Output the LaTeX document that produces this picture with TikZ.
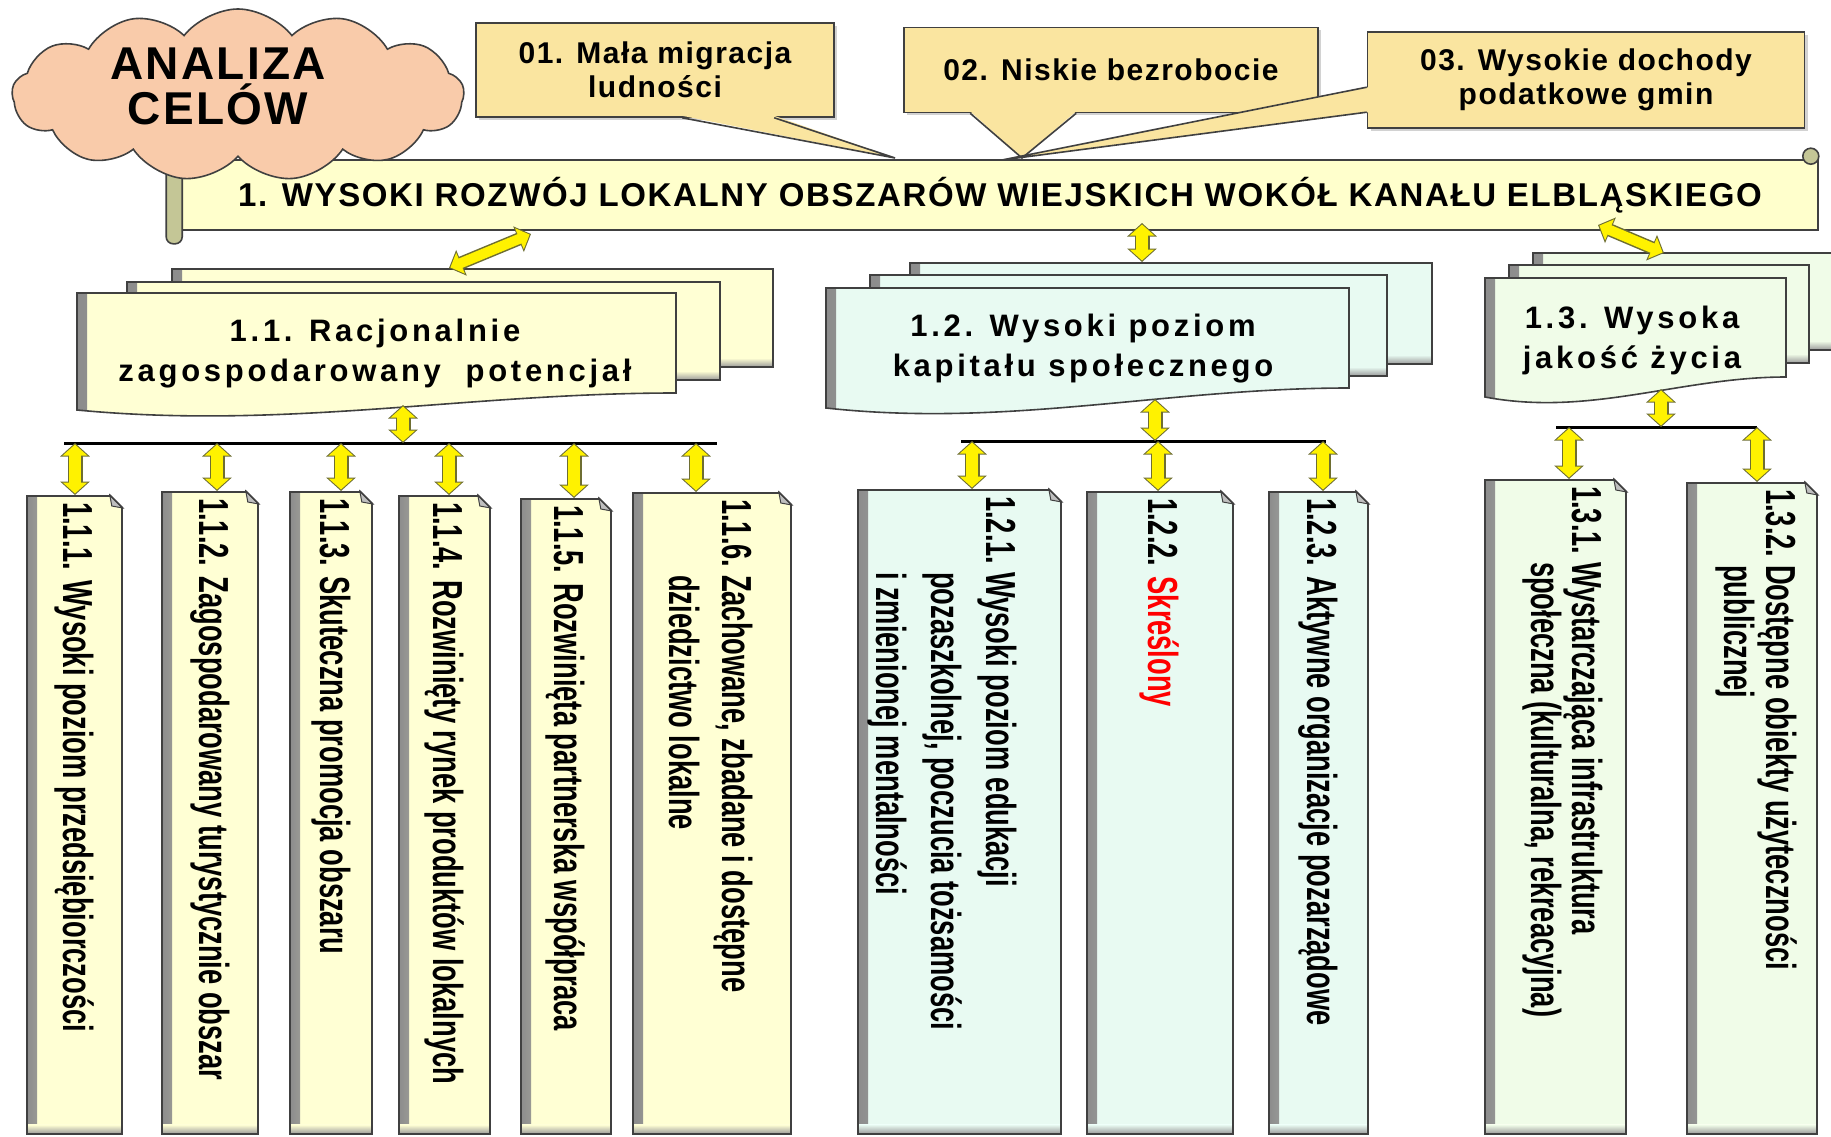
\documentclass[tikz,border=0pt]{standalone}
\usepackage{fontspec}
\setmainfont{Liberation Sans}
\newfontfamily\spacedfont[LetterSpace=12]{Liberation Sans}
\newfontfamily\tightfont[LetterSpace=5]{Liberation Sans}
\newfontfamily\narrowfont[FakeStretch=0.65]{Liberation Sans}
\usetikzlibrary{shapes.symbols,arrows.meta,shadows}

\definecolor{cloudfill}{RGB}{249,203,170}
\definecolor{notefill}{RGB}{250,229,160}
\definecolor{bannerfill}{RGB}{255,255,204}
\definecolor{rollfill}{RGB}{196,198,150}
\definecolor{paleyel}{RGB}{255,255,212}
\definecolor{palemint}{RGB}{232,250,242}
\definecolor{palegreen}{RGB}{240,252,232}
\definecolor{arrowline}{RGB}{110,110,50}
\definecolor{edgegray}{RGB}{64,64,64}
\definecolor{strike}{RGB}{255,0,0}

\begin{document}
\begin{tikzpicture}[x=1pt, y=-1pt,
  boxline/.style={draw=edgegray, line width=1.6pt},
  inshade/.style={path picture={
    \shade[left color=black!45, right color=#1] (path picture bounding box.south west) rectangle ([xshift=10pt]path picture bounding box.north west);
    \shade[bottom color=black!40, top color=#1] (path picture bounding box.south west) rectangle ([yshift=9pt]path picture bounding box.south east);}},
  sheet/.style={boxline, fill=#1, inshade=#1},
  leafbox/.style={boxline, fill=#1, inshade=#1, anchor=north, inner sep=0pt},
  headtext/.style={font=\spacedfont\bfseries\fontsize{31}{40}\selectfont, align=center, inner sep=0pt},
  notebox/.style={boxline, fill=notefill, align=center, font=\tightfont\bfseries\fontsize{30}{34}\selectfont,
    drop shadow={shadow xshift=3pt, shadow yshift=-3pt, opacity=.35}},
  vtext/.style={font=\narrowfont\bfseries\fontsize{42}{48}\selectfont, rotate=-90, anchor=west, inner sep=0pt, align=left},
  biarrow/.style={draw=yellow, line width=12pt,
    {Triangle[length=11pt,width=24pt]}-{Triangle[length=11pt,width=24pt]}, shorten <=1.5pt, shorten >=1.5pt,
    preaction={draw=arrowline, line width=15pt,
      {Triangle[length=13.5pt,width=29pt]}-{Triangle[length=13.5pt,width=29pt]}, shorten <=0pt, shorten >=0pt}},
  slimarrow/.style={draw=yellow, line width=10pt,
    {Triangle[length=11pt,width=22pt]}-{Triangle[length=11pt,width=22pt]}, shorten <=1.5pt, shorten >=1.5pt,
    preaction={draw=arrowline, line width=13pt,
      {Triangle[length=13.5pt,width=27pt]}-{Triangle[length=13.5pt,width=27pt]}, shorten <=0pt, shorten >=0pt}},
  busline/.style={line width=3pt, black}
]
\fill[white] (0,0) rectangle (1831,1137);
\clip (0,0) rectangle (1831,1137);

% stacked sheets of the three sub-goals
\foreach \xa/\ya/\xb/\yb/\col in {172/269/773/367/paleyel, 127/282/720/380/paleyel,
    910/263/1432/364/palemint, 870/275/1387/376/palemint,
    1533/253/1850/350/palegreen, 1509/265/1809/363/palegreen}
  \draw[sheet=\col] (\xa,\ya) rectangle (\xb,\yb);
\foreach \xa/\ya/\xb/\yl/\yr/\col in {77/293/676/410/393/paleyel, 826/288/1349/408/388/palemint, 1485/278/1786/397/377/palegreen}
  \draw[sheet=\col] (\xa,\ya) -- (\xb,\ya) -- (\xb,\yr)
    .. controls ({\xa+0.65*(\xb-\xa)},\yr) and ({\xa+0.35*(\xb-\xa)},{\yl+20}) .. (\xa,\yl) -- cycle;

\node (g11) [headtext] at (375,354) {1.1. Racjonalnie\\zagospodarowany\ \ potencjał};
\node (g12) [headtext] at (1083,349) {1.2. Wysoki poziom\\kapitału społecznego};
\node (g13) [headtext] at (1632,340) {1.3. Wysoka\\jakość życia};

\coordinate (p11) at (403,405);
\coordinate (p12) at (1155,399);
\coordinate (p13) at (1661,389);
\coordinate (bus11) at (403,443);
\coordinate (bus12) at (1155,441);
\coordinate (bus13) at (1661,427);
\coordinate (s11) at (449,268);
\coordinate (s12) at (1142,262);
\coordinate (s13) at (1664,253);

% detailed goals
\foreach \n/\x/\y/\w/\col in {c111/74.5/495/95/paleyel, c112/210/491/96/paleyel, c113/331/491/82/paleyel,
    c114/444.5/495/91/paleyel, c115/566/498/90/paleyel, c116/712/492/158/paleyel,
    c121/959.5/489/203/palemint, c122/1160/491/146/palemint, c123/1318.5/491/99/palemint,
    c131/1555.5/479/141/palegreen, c132/1752/482/130/palegreen}
  \node (\n) [leafbox=\col, minimum width=\w, minimum height={1133-\y}] at (\x,\y) {};

\foreach \n in {c111,c112,c113,c114,c115,c116,c121,c122,c123,c131,c132} {
  \fill[white] ([xshift=-14pt,yshift=1.5pt]\n.north east) -- ([xshift=1.5pt,yshift=1.5pt]\n.north east)
    -- ([xshift=1.5pt,yshift=-14pt]\n.north east) -- cycle;
  \filldraw[boxline, line width=1pt, fill=black!25] ([xshift=-13pt]\n.north east) -- ([yshift=-13pt]\n.north east)
    -- ([xshift=-11pt,yshift=-11pt]\n.north east) -- cycle;
  \draw[boxline] ([xshift=-13pt]\n.north east) -- ([yshift=-13pt]\n.north east);
}

\node (t111) [vtext] at ([yshift=-7pt]c111.north) {1.1.1. Wysoki poziom przedsiębiorczości};
\node (t112) [vtext] at ([yshift=-7pt]c112.north) {1.1.2. Zagospodarowany turystycznie obszar};
\node (t113) [vtext] at ([yshift=-7pt]c113.north) {1.1.3. Skuteczna promocja obszaru};
\node (t114) [vtext] at ([yshift=-7pt]c114.north) {1.1.4. Rozwinięty rynek produktów lokalnych};
\node (t115) [vtext] at ([yshift=-7pt]c115.north) {1.1.5. Rozwinięta partnerska współpraca};
\node (t116) [vtext] at ([xshift=-6pt,yshift=-7pt]c116.north) {\begin{tabular}{@{}l@{\ }l@{}}1.1.6. & Zachowane, zbadane i dostępne\\[5pt]
  & dziedzictwo lokalne\end{tabular}};
\node (t121) [vtext] at ([xshift=-18pt,yshift=-7pt]c121.north) {\begin{tabular}{@{}l@{\ }l@{}}1.2.1. & Wysoki poziom edukacji\\[7pt]
  & pozaszkolnej, poczucia tożsamości\\[7pt] & i zmienionej mentalności\end{tabular}};
\node (t122) [vtext] at ([yshift=-7pt]c122.north) {1.2.2. \textcolor{strike}{Skreślony}};
\node (t123) [vtext] at ([yshift=-7pt]c123.north) {1.2.3. Aktywne organizacje pozarządowe};
\node (t131) [vtext] at ([xshift=6pt,yshift=-7pt]c131.north) {\begin{tabular}{@{}l@{\ }l@{}}1.3.1. & Wystarczająca infrastruktura\\[-7pt]
  & społeczna (kulturalna, rekreacyjna)\end{tabular}};
\node (t132) [vtext] at ([xshift=3pt,yshift=-7pt]c132.north) {\begin{tabular}{@{}l@{\ }l@{}}1.3.2. & Dostępne obiekty użyteczności\\[-6pt]
  & publicznej\end{tabular}};

% links below the sub-goals
\draw[busline] (64,443) -- (717,443);
\draw[busline] (961,441) -- (1326,441);
\draw[busline] (1556,427) -- (1757,427);
\draw[biarrow] (p11) -- (bus11);
\draw[biarrow] (p12) -- (bus12);
\draw[biarrow] (p13) -- (bus13);
\foreach \n/\x in {c111/75, c112/217, c113/341, c114/449, c115/574, c116/696}
  \draw[biarrow] (\x,0 |- bus11) -- (\x,0 |- \n.north);
\foreach \n/\x in {c121/972, c122/1158, c123/1323}
  \draw[biarrow] (\x,0 |- bus12) -- (\x,0 |- \n.north);
\foreach \n/\x in {c131/1569, c132/1757}
  \draw[biarrow] (\x,0 |- bus13) -- (\x,0 |- \n.north);

% main goal scroll
\node (goal) [boxline, fill=bannerfill, minimum width=1636, minimum height=70,
  font=\tightfont\bfseries\fontsize{33}{36}\selectfont] at (1000,195)
  {1. WYSOKI ROZWÓJ LOKALNY OBSZARÓW WIEJSKICH WOKÓŁ KANAŁU ELBLĄSKIEGO};
\draw[boxline, fill=rollfill, rounded corners=7pt] ([xshift=-15pt,yshift=-8pt]goal.north west)
  rectangle ([xshift=1pt,yshift=-13pt]goal.south west);
\filldraw[boxline, fill=rollfill] ([xshift=-8pt,yshift=3pt]goal.north east) circle (8pt);
\coordinate (a11) at (531,234);
\coordinate (a12) at (1142,223);
\coordinate (a13) at (1598,225);

% effects
\node (m01) [notebox, minimum width=358, minimum height=94] at (655,70) {01. Mała migracja\\ludności};
\node (m02) [notebox, minimum width=414, minimum height=85] at (1111,70) {02. Niskie bezrobocie};
\node (m03) [notebox, minimum width=437, minimum height=96] at (1586,80) {03. Wysokie dochody\\podatkowe gmin};
\coordinate (t01) at (895,158);
\coordinate (t02) at (1022,158);
\coordinate (t03) at (1002,160);
\fill[notefill] ([xshift=207pt,yshift=2pt]m01.south west) -- (t01) -- ([xshift=299pt,yshift=2pt]m01.south west) -- cycle;
\draw[boxline] ([xshift=207pt]m01.south west) -- (t01) -- ([xshift=299pt]m01.south west);
\fill[notefill] ([xshift=67pt,yshift=2pt]m02.south west) -- (t02) -- ([xshift=173pt,yshift=2pt]m02.south west) -- cycle;
\draw[boxline] ([xshift=67pt]m02.south west) -- (t02) -- ([xshift=173pt]m02.south west);
\fill[notefill] ([xshift=2pt,yshift=-56pt]m03.north west) -- (t03) -- ([xshift=2pt,yshift=-81pt]m03.north west) -- cycle;
\draw[boxline] ([yshift=-56pt]m03.north west) -- (t03) -- ([yshift=-81pt]m03.north west);

% title cloud
\node (cloud) [cloud, cloud puffs=13, cloud puff arc=105, aspect=2.6, boxline, fill=cloudfill,
  minimum width=452, minimum height=172] at (238,95) {};
\node (aims) [font=\tightfont\bfseries\fontsize{46}{45}\selectfont, align=center] at (218,86) {ANALIZA\\CELÓW};

% links from the main goal
\draw[slimarrow] (a11) -- (s11);
\draw[biarrow] (a12) -- (s12);
\draw[slimarrow] (a13) -- (s13);
\end{tikzpicture}
\end{document}
